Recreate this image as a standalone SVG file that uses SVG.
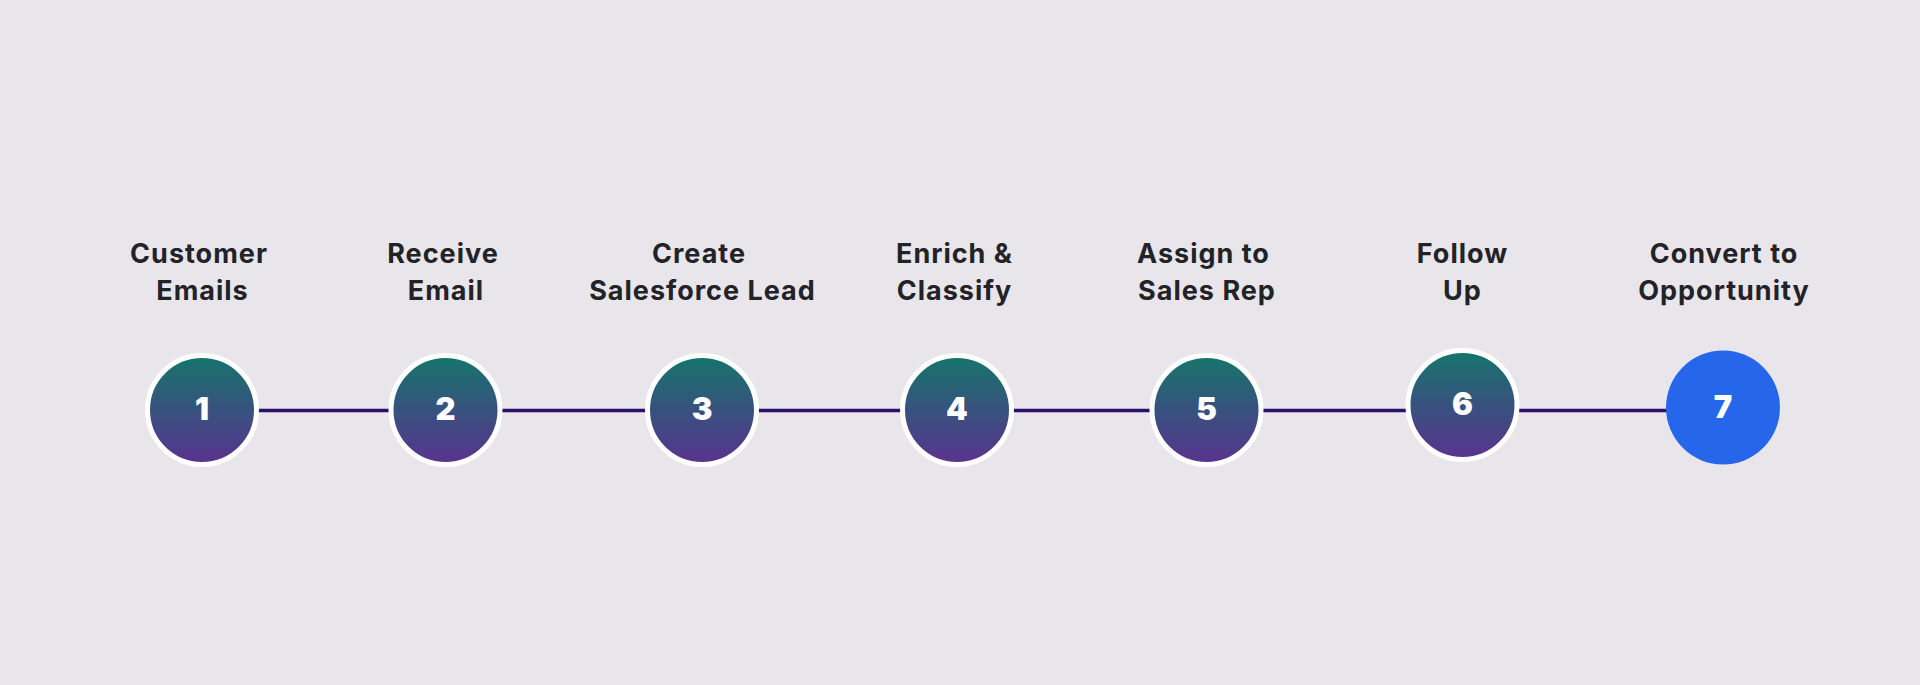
<svg xmlns="http://www.w3.org/2000/svg" width="1920" height="685" viewBox="0 0 1920 685">
<defs>
<linearGradient id="g" x1="0" y1="0" x2="0" y2="1">
<stop offset="0" stop-color="#15766C"/>
<stop offset="0.5" stop-color="#37527E"/>
<stop offset="1" stop-color="#5B328F"/>
</linearGradient>
</defs>
<style>
.lbl{font-family:Inter,"Liberation Sans",sans-serif;font-weight:700;font-size:27px;letter-spacing:1px;fill:#232327;text-anchor:middle}
.num{font-family:Inter,"Liberation Sans",sans-serif;font-weight:900;font-size:31px;fill:#ffffff;text-anchor:middle}
.step{fill:url(#g);stroke:#ffffff;stroke-width:5}
.conn{stroke:#2B0F6B;stroke-width:3.5;fill:none}
</style>
<rect width="1920" height="685" fill="#E8E6EB"/>
<g id="connectors">
<line class="conn" x1="202" y1="410.5" x2="445.5" y2="410.5"/>
<line class="conn" x1="445.5" y1="410.5" x2="702" y2="410.5"/>
<line class="conn" x1="702" y1="410.5" x2="957" y2="410.5"/>
<line class="conn" x1="957" y1="410.5" x2="1206.5" y2="410.5"/>
<line class="conn" x1="1206.5" y1="410.5" x2="1462.5" y2="410.5"/>
<line class="conn" x1="1462.5" y1="410.5" x2="1723" y2="410.5"/>
</g>
<g id="node1">
<text class="lbl" x="199" y="263">Customer</text>
<text class="lbl" x="202.5" y="300">Emails</text>
<circle class="step" cx="202" cy="410" r="54.5"/>
<text class="num" x="202" y="420">1</text>
</g>
<g id="node2">
<text class="lbl" x="443" y="263">Receive</text>
<text class="lbl" x="446" y="300">Email</text>
<circle class="step" cx="445.5" cy="410" r="54.5"/>
<text class="num" x="445.5" y="420">2</text>
</g>
<g id="node3">
<text class="lbl" x="699" y="263">Create</text>
<text class="lbl" x="702.5" y="300">Salesforce Lead</text>
<circle class="step" cx="702" cy="410" r="54.5"/>
<text class="num" x="702" y="420">3</text>
</g>
<g id="node4">
<text class="lbl" x="954.5" y="263">Enrich &amp;</text>
<text class="lbl" x="954.5" y="300">Classify</text>
<circle class="step" cx="957" cy="410" r="54.5"/>
<text class="num" x="957" y="420">4</text>
</g>
<g id="node5">
<text class="lbl" x="1203.5" y="263">Assign to</text>
<text class="lbl" x="1207" y="300">Sales Rep</text>
<circle class="step" cx="1206.5" cy="410" r="54.5"/>
<text class="num" x="1206.5" y="420">5</text>
</g>
<g id="node6">
<text class="lbl" x="1462.5" y="263">Follow</text>
<text class="lbl" x="1462.5" y="300">Up</text>
<circle class="step" cx="1462.5" cy="405" r="54.5"/>
<text class="num" x="1462.5" y="415">6</text>
</g>
<g id="node7">
<text class="lbl" x="1724" y="263">Convert to</text>
<text class="lbl" x="1724" y="300">Opportunity</text>
<circle cx="1723" cy="407.5" r="57" fill="#2666EA"/>
<text class="num" x="1723" y="418">7</text>
</g>
</svg>
